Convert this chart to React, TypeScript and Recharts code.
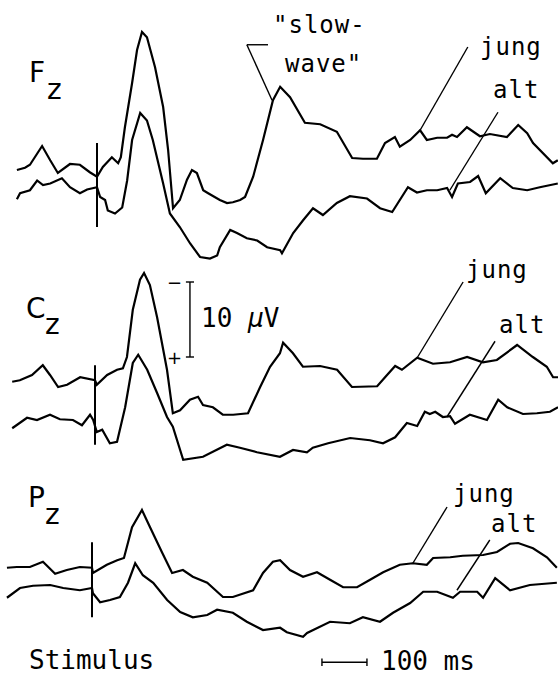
import React from 'react';
import { LineChart, Line, XAxis, YAxis, ReferenceLine } from 'recharts';

const W = 558;
const H = 677;
const PX_PER_MS = 0.45;
const PX_PER_UV = 7.5;

type Pt = [number, number];
type Seg = [number, number, number, number];

// time (ms after stimulus), amplitude (µV, negative up)
const fzJung: Pt[] = [
  [-178, 0], [-160, -0.3], [-149, -0.7], [-122, -3.2], [-104, -1.3], [-87, 0.4], [-60, -0.8], [-38, -0.7],
  [-16, 0.3], [0, 0.9], [13, -0.4], [33, -1.7], [40, -1.3], [47, -0.9], [53, -1.7], [62, -5.7], [78, -11.6],
  [89, -16], [100, -18.4], [111, -17.7], [129, -13.7], [147, -8.4], [158, -2.7], [169, 5.1], [184, 4.0],
  [200, 1.3], [211, 0], [222, 0.4], [236, 2.7], [247, 3.1], [273, 4.0], [289, 4.4], [302, 4.3], [318, 4.0],
  [329, 3.6], [347, 0.9], [369, -4.0], [391, -9.3], [407, -11.1], [429, -9.7], [462, -6.3], [496, -6.1],
  [533, -5.1], [567, -1.6], [591, -1.5], [622, -1.5], [640, -3.6], [662, -4.4], [673, -3.1], [696, -4.0],
  [718, -5.3], [733, -4.0], [756, -4.3], [778, -4.3], [789, -4.7], [800, -4.4], [822, -5.7], [851, -4.5],
  [873, -4.8], [911, -4.4], [936, -6.0], [956, -4.9], [969, -3.6], [1013, -0.9], [1024, -1.3],
];
const fzAlt: Pt[] = [
  [-178, 1.2], [-171, 0.4], [-149, 0], [-133, -1.3], [-120, -0.7], [-104, -0.9], [-78, -1.6], [-60, -0.4],
  [-38, 0.4], [-22, -0.1], [0, -0.4], [7, 0.9], [18, 1.3], [24, 2.7], [40, 3.1], [56, 2.3], [67, -1.3],
  [78, -6.7], [96, -10.3], [111, -9.3], [124, -6.7], [147, -0.9], [162, 3.1], [184, 4.9], [207, 7.1],
  [229, 8.9], [251, 9.1], [267, 8.7], [273, 7.6], [296, 5.3], [311, 5.7], [333, 6.4], [356, 6.7], [378, 7.6],
  [407, 8.0], [411, 8.4], [436, 5.7], [458, 4.0], [480, 2.4], [502, 3.3], [533, 1.7], [562, 0.8], [600, 1.1],
  [629, 2.4], [656, 2.9], [691, -0.4], [711, 0.3], [733, 0], [756, 0], [778, -0.3], [789, 0.9], [802, -0.9],
  [829, -1.1], [847, -1.9], [864, 0.4], [896, -1.6], [924, -0.3], [956, 0], [984, -0.4], [1024, -0.9],
];
const czJung: Pt[] = [
  [-184, 0.5], [-167, 0.3], [-140, -0.4], [-116, -1.7], [-100, -0.4], [-82, 1.2], [-62, 0.9], [-33, -0.1],
  [0, 0.3], [4, 0.9], [27, -0.4], [49, -1.1], [62, -1.3], [71, -2.8], [84, -9.1], [100, -13.1], [109, -14],
  [122, -12.4], [138, -8.1], [160, -1.1], [173, 4.7], [189, 4.3], [211, 2.9], [229, 2.5], [240, 3.6],
  [262, 3.9], [284, 4.9], [307, 4.9], [340, 4.7], [367, 1.2], [389, -1.5], [411, -3.3], [418, -4.7],
  [440, -3.3], [462, -1.5], [500, -1.6], [538, -1.1], [571, 1.2], [627, 1.1], [649, -0.4], [667, -1.6],
  [682, -1.1], [716, -2.7], [751, -1.9], [789, -2.1], [827, -2.8], [862, -2.1], [893, -2.4], [938, -4.4],
  [973, -2.8], [1004, -1.5], [1018, -0.1], [1029, -0.1],
];
const czAlt: Pt[] = [
  [-184, 1.1], [-151, -0.3], [-129, 0], [-100, -0.7], [-78, -0.1], [-49, 0], [-29, 0.7], [-11, -0.7], [-4, 0],
  [4, 1.6], [16, 1.3], [33, 3.1], [49, 2.9], [67, -1.7], [84, -7.6], [96, -8.7], [116, -6.7], [138, -3.6],
  [160, -0.4], [173, 0.9], [196, 5.3], [240, 4.9], [293, 3.3], [322, 3.7], [360, 4.3], [411, 4.9], [440, 4.0],
  [471, 4.3], [484, 3.7], [518, 3.1], [567, 2.4], [611, 2.7], [640, 3.1], [667, 2.3], [693, 0.4], [716, 0.8],
  [733, -1.1], [744, -0.8], [756, -1.1], [773, -0.4], [789, -0.5], [800, 0.5], [833, -0.7], [871, 0],
  [896, -2.7], [916, -1.7], [951, -0.8], [982, -0.9], [1011, -1.1], [1029, -1.7],
];
const pzJung: Pt[] = [
  [-189, 0.1], [-167, 0], [-138, 0], [-109, -0.7], [-82, 0.9], [-56, 0.4], [-27, 0], [0, 0.1], [2, 0.8],
  [33, -0.3], [56, -0.9], [71, -1.2], [89, -5.3], [111, -7.6], [129, -5.3], [156, -1.9], [178, 0.8],
  [202, 0.4], [224, 1.3], [256, 2.1], [291, 4.0], [313, 4.0], [358, 3.1], [380, 0.8], [402, -0.7], [418, -0.9],
  [440, 0.4], [469, 1.3], [500, 0.7], [529, 1.7], [558, 2.7], [589, 2.7], [618, 1.7], [647, 0.7], [684, -0.3],
  [713, -0.5], [744, -0.3], [758, -1.2], [796, -1.3], [824, -1.5], [869, -1.6], [900, -2.0], [929, -3.1],
  [947, -3.2], [980, -2.5], [1011, -1.3], [1033, 0.1],
];
const pzAlt: Pt[] = [
  [-189, 1.3], [-160, 0], [-131, -0.3], [-93, -0.4], [-64, 0], [-27, 0.3], [0, 0], [2, 0.7], [18, 1.9],
  [40, 1.6], [62, 1.2], [80, -0.7], [96, -3.3], [113, -1.7], [136, -0.7], [167, 1.6], [196, 3.2], [224, 3.9],
  [256, 3.6], [278, 2.9], [313, 3.3], [344, 4.5], [380, 5.6], [418, 5.3], [433, 5.9], [469, 6.5], [478, 6.0],
  [529, 4.5], [573, 4.7], [602, 3.9], [640, 4.5], [669, 3.3], [707, 2.0], [736, 0.5], [767, 0.5], [802, 1.3],
  [818, 0.5], [856, 0.5], [869, 1.3], [896, -1.3], [929, 0.3], [973, -0.4], [1033, -0.7],
];

// annotation segments [t1, v1, t2, v2] in each panel's units
const fzMarks: Seg[] = [
  [0, -3.6, 0, 7.6],
  [333, -16.7, 380, -16.7],
  [333, -16.7, 389, -9.3],
  [824, -16.4, 718, -5.3],
  [891, -7.7, 784, 2.7],
];
const czMarks: Seg[] = [
  [0, -1.7, 0, 8.9],
  [818, -12.8, 716, -2.7],
  [889, -4.9, 782, 5.2],
  [211, -12.8, 211, -2.8],
  [202, -12.8, 220, -12.8],
  [202, -2.8, 220, -2.8],
];
const pzMarks: Seg[] = [
  [0, -3.3, 0, 6.7],
  [789, -8.0, 713, -0.5],
  [884, -3.6, 811, 3.1],
  [511, 12.7, 611, 12.7],
  [511, 12.2, 511, 13.2],
  [611, 12.2, 611, 13.2],
];

const panels = [
  { key: 'fz', stimX: 97, baseY: 170, altOffset: 2.7, jung: fzJung, alt: fzAlt, marks: fzMarks },
  { key: 'cz', stimX: 95, baseY: 378, altOffset: 5.6, jung: czJung, alt: czAlt, marks: czMarks },
  { key: 'pz', stimX: 92, baseY: 567, altOffset: 2.8, jung: pzJung, alt: pzAlt, marks: pzMarks },
];

type PanelCfg = (typeof panels)[number];

function Panel({ p }: { p: PanelCfg }) {
  const xDomain = [-p.stimX / PX_PER_MS, (W - p.stimX) / PX_PER_MS];
  const yDomain = [-p.baseY / PX_PER_UV, (H - p.baseY) / PX_PER_UV];
  const jungData = p.jung.map(([t, v]) => ({ t, v }));
  const altData = p.alt.map(([t, v]) => ({ t, v: v + p.altOffset }));
  return (
    <div style={{ position: 'absolute', left: 0, top: 0, pointerEvents: 'none' }}>
      <LineChart width={W} height={H} margin={{ top: 0, right: 0, bottom: 0, left: 0 }}>
        <XAxis type="number" dataKey="t" domain={xDomain} allowDataOverflow hide />
        <YAxis type="number" dataKey="v" domain={yDomain} allowDataOverflow reversed hide />
        <Line
          data={jungData}
          dataKey="v"
          stroke="#000"
          strokeWidth={2.2}
          dot={false}
          activeDot={false}
          isAnimationActive={false}
        />
        <Line
          data={altData}
          dataKey="v"
          stroke="#000"
          strokeWidth={2.2}
          dot={false}
          activeDot={false}
          isAnimationActive={false}
        />
        {p.marks.map((s, i) => (
          <ReferenceLine
            key={i}
            segment={[{ x: s[0], y: s[1] }, { x: s[2], y: s[3] }]}
            stroke="#000"
            strokeWidth={i === 0 ? 2 : 1.4}
            ifOverflow="visible"
          />
        ))}
      </LineChart>
    </div>
  );
}

const mono = '"DejaVu Sans Mono", monospace';
const sans = '"DejaVu Sans", sans-serif';

export default function App() {
  return (
    <div style={{ position: 'absolute', left: 0, top: 0, width: W, height: H, background: '#fff' }}>
      {panels.map((p) => (
        <Panel key={p.key} p={p} />
      ))}
      <svg width={W} height={H} style={{ position: 'absolute', left: 0, top: 0, pointerEvents: 'none' }}>
        <g fill="#000" fontFamily={sans} fontSize={28}>
          <text x={29} y={82}>F</text>
          <text x={47} y={99}>z</text>
          <text x={26} y={318}>C</text>
          <text x={45} y={334}>z</text>
          <text x={28} y={507}>P</text>
          <text x={45} y={524}>z</text>
        </g>
        <g fill="#000" fontFamily={mono} fontSize={24} style={{ letterSpacing: '1px' }}>
          <text x={273} y={33}>"slow-</text>
          <text x={285} y={72}>wave"</text>
          <text x={480} y={55}>jung</text>
          <text x={493} y={98}>alt</text>
          <text x={466} y={278}>jung</text>
          <text x={499} y={333}>alt</text>
          <text x={453} y={502}>jung</text>
          <text x={491} y={532}>alt</text>
        </g>
        <g fill="#000" fontFamily={mono} fontSize={26}>
          <text x={201} y={327}>
            10 <tspan fontStyle="italic">µ</tspan>V
          </text>
          <text x={29} y={669}>Stimulus</text>
          <text x={381} y={670}>100 ms</text>
        </g>
        <g fill="#000" fontFamily={sans} fontSize={18}>
          <text x={167} y={289}>−</text>
          <text x={167} y={364}>+</text>
        </g>
      </svg>
    </div>
  );
}
